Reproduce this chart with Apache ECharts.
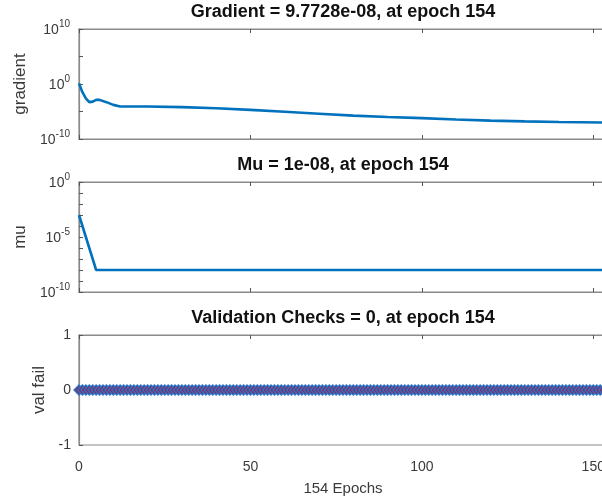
<!DOCTYPE html>
<html>
<head>
<meta charset="utf-8">
<script src="https://cdn.jsdelivr.net/npm/echarts@6/dist/echarts.min.js"></script>
<style>
  html, body { margin: 0; padding: 0; background: #fff; }
  #chart { width: 602px; height: 501px; }
</style>
</head>
<body>
<div id="chart"></div>
<script>
// Training state: gradient, mu and validation failures per epoch
const epochMax = 154;
const xTicks = [0, 50, 100, 150];

// gradient: [epoch, value]
const gradientPts = [
  [0, 1.3], [1, 3.2e-2], [2, 2.5e-3], [3, 5.0e-4], [4, 6.3e-4], [5, 1.3e-3],
  [6, 1.3e-3], [8, 5.0e-4], [10, 1.6e-4], [12, 7.9e-5], [15, 7.9e-5],
  [20, 7.9e-5], [30, 6.3e-5], [40, 4.0e-5], [50, 2.0e-5], [60, 8.9e-6],
  [70, 4.0e-6], [80, 1.8e-6], [90, 1.0e-6], [100, 6.3e-7], [110, 3.5e-7],
  [120, 2.2e-7], [130, 1.6e-7], [140, 1.26e-7], [154, 9.7728e-8]
];

// mu: [epoch, value]
const muPts = [
  [0, 1e-3], [1, 1e-4], [2, 1e-5], [3, 1e-6], [4, 1e-7], [5, 1e-8], [154, 1e-8]
];

// validation checks, epochs 0..154
const valFail = [
  0,0,0,0,0,0,0,0,0,0, 0,0,0,0,0,0,0,0,0,0, 0,0,0,0,0,0,0,0,0,0,
  0,0,0,0,0,0,0,0,0,0, 0,0,0,0,0,0,0,0,0,0, 0,0,0,0,0,0,0,0,0,0,
  0,0,0,0,0,0,0,0,0,0, 0,0,0,0,0,0,0,0,0,0, 0,0,0,0,0,0,0,0,0,0,
  0,0,0,0,0,0,0,0,0,0, 0,0,0,0,0,0,0,0,0,0, 0,0,0,0,0,0,0,0,0,0,
  0,0,0,0,0,0,0,0,0,0, 0,0,0,0,0,0,0,0,0,0, 0,0,0,0,0,0,0,0,0,0,
  0,0,0,0,0
];

// y tick positions
const gradTicks = [1e-10, 1e-5, 1, 1e5, 1e10];
const gradLabels = [1e-10, 1, 1e10];
const muTicks = [1e-10, 1e-9, 1e-8, 1e-7, 1e-6, 1e-5, 1e-4, 1e-3, 1e-2, 1e-1, 1];
const muLabels = [1e-10, 1e-5, 1];

const titles = [
  'Gradient = 9.7728e-08, at epoch 154',
  'Mu = 1e-08, at epoch 154',
  'Validation Checks = 0, at epoch 154'
];
const yNames = ['gradient', 'mu', 'val fail'];
const xName = '154 Epochs';

const FONT = '"Liberation Sans", Arial, Helvetica, sans-serif';
const AXIS_GRAY = '#8a8a8a';
const TEXT_GRAY = '#3a3a3a';
const TICK_GRAY = '#555';
const LINE_BLUE = '#0072BD';

const gridTops = [29, 182, 335];
const gridH = 110;
const plotLeft = 79;
const plotRight = -5;
const plotCenterX = 343;

const powLabel = v => {
  const e = Math.round(Math.log10(v));
  return '{b|10}{s|' + e + '}';
};
const powRich = {
  b: { fontSize: 14, fontFamily: FONT, color: TEXT_GRAY, lineHeight: 16, verticalAlign: 'bottom' },
  s: { fontSize: 10, fontFamily: FONT, color: TEXT_GRAY, lineHeight: 10, padding: [0, 0, 8, 0], verticalAlign: 'bottom' }
};

const grids = gridTops.map(t => ({
  left: plotLeft, right: plotRight, top: t, height: gridH,
  outerBoundsMode: 'none', containLabel: false,
  show: true, borderColor: AXIS_GRAY, borderWidth: 1.2, backgroundColor: '#fff'
}));

const xAxes = [];
const yAxes = [];
for (let i = 0; i < 3; i++) {
  const common = {
    gridIndex: i, type: 'value', min: 0, max: epochMax, interval: 50,
    axisLine: { show: true, lineStyle: { color: AXIS_GRAY, width: 1.2 } },
    axisTick: { show: true, inside: true, length: 4, lineStyle: { color: TICK_GRAY } },
    splitLine: { show: false }
  };
  xAxes.push(Object.assign({}, common, {
    position: 'bottom',
    axisLabel: i === 2 ? {
      show: true, margin: 15, fontSize: 14, fontFamily: FONT, color: TEXT_GRAY,
      customValues: xTicks
    } : { show: false },
    name: i === 2 ? xName : '',
    nameLocation: 'middle', nameGap: 36,
    nameTextStyle: { fontSize: 15, fontFamily: FONT, color: TEXT_GRAY }
  }));
  xAxes.push(Object.assign({}, common, {
    position: 'top', axisLabel: { show: false }
  }));
}

const yName = (i, gap) => ({
  name: yNames[i], nameLocation: 'middle', nameGap: gap,
  nameTextStyle: { fontSize: 17, fontFamily: FONT, color: TEXT_GRAY }
});
const yLine = { show: true, lineStyle: { color: AXIS_GRAY, width: 1.2 } };
const yTick = vals => ({
  show: true, inside: true, length: 4, lineStyle: { color: TICK_GRAY }, customValues: vals
});

yAxes.push(Object.assign({
  gridIndex: 0, type: 'log', logBase: 10, min: 1e-10, max: 1e10,
  axisLine: yLine, axisTick: yTick(gradTicks),
  splitLine: { show: false },
  axisLabel: { margin: 9, formatter: powLabel, rich: powRich, customValues: gradLabels }
}, yName(0, 47)));
yAxes.push(Object.assign({
  gridIndex: 1, type: 'log', logBase: 10, min: 1e-10, max: 1,
  axisLine: yLine, axisTick: yTick(muTicks),
  splitLine: { show: false },
  axisLabel: { margin: 9, formatter: powLabel, rich: powRich, customValues: muLabels }
}, yName(1, 47)));
yAxes.push(Object.assign({
  gridIndex: 2, type: 'value', min: -1, max: 1, interval: 1,
  axisLine: yLine, axisTick: yTick([-1, 0, 1]), splitLine: { show: false },
  axisLabel: { margin: 8, fontSize: 14, fontFamily: FONT, color: TEXT_GRAY }
}, yName(2, 22)));

const valPts = valFail.map((v, i) => [i, v]);

const option = {
  animation: false,
  backgroundColor: '#fff',
  title: titles.map((t, i) => ({
    text: t, left: plotCenterX, top: gridTops[i] - 26, textAlign: 'center', padding: 0,
    textStyle: { fontSize: 18, fontWeight: 'bold', fontFamily: FONT, color: '#111' }
  })),
  grid: grids,
  xAxis: xAxes,
  yAxis: yAxes,
  series: [
    {
      type: 'line', xAxisIndex: 0, yAxisIndex: 0, data: gradientPts,
      showSymbol: false, lineStyle: { color: LINE_BLUE, width: 2.6 }
    },
    {
      type: 'line', xAxisIndex: 2, yAxisIndex: 1, data: muPts,
      showSymbol: false, lineStyle: { color: LINE_BLUE, width: 2.6 }
    },
    {
      type: 'line', xAxisIndex: 4, yAxisIndex: 2, data: valPts,
      symbol: 'diamond', symbolSize: 10, showAllSymbol: true,
      lineStyle: { color: LINE_BLUE, width: 1.5 },
      itemStyle: { color: '#8c2560', borderColor: '#2a74c6', borderWidth: 1.4 }
    }
  ]
};

const chart = echarts.init(document.getElementById('chart'), null, { renderer: 'canvas' });
chart.setOption(option);
</script>
</body>
</html>
